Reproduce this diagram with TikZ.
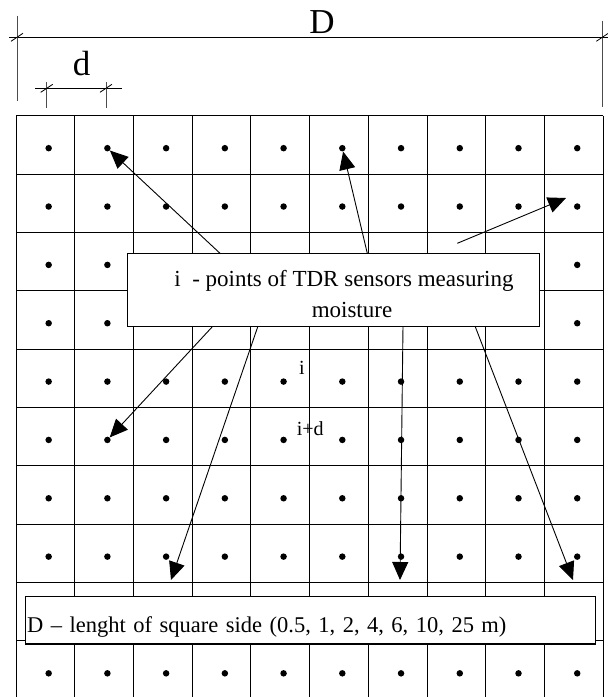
\documentclass[tikz,border=0pt]{standalone}
\usepackage{fontspec}
\setmainfont{Liberation Serif}
\usetikzlibrary{arrows.meta}

\begin{document}
\begin{tikzpicture}[
        x=1pt, y=-1pt,
        cell/.style={line width=0.9pt},
        dot/.style={circle, fill, inner sep=0pt, minimum size=6.5pt},
        box/.style={rectangle, draw, line width=1.2pt, fill=white, inner sep=0pt},
        arrow/.style={-{Triangle[length=18pt, width=16pt]}, line width=0.9pt},
        dim/.style={line width=0.9pt},
        ext/.style={line width=0.9pt, black!70},
        tick/.style={line width=0.8pt},
        big/.style={font=\fontsize{35}{40}\selectfont, inner sep=0pt},
        small/.style={font=\fontsize{20}{24}\selectfont, inner sep=0pt}
    ]
    \useasboundingbox (0,0) rectangle (608,697);
    \clip (0,0) rectangle (608,697);

    % grid of squares
    \foreach \k in {0,...,10} {
        \draw[cell] ({16+\k*58.73},115.7) -- ({16+\k*58.73},710);
        \draw[cell] (16,{115.7+\k*58.35}) -- (603.3,{115.7+\k*58.35});
    }
    \foreach \c in {1,...,10}
        \foreach \r in {1,...,10}
            \node[dot] (p-\c-\r) at ({19.3+(\c-0.5)*58.73},{119+(\r-0.5)*58.35}) {};

    % dimension D
    \coordinate (Dleft) at (9,37.3);
    \coordinate (Dright) at (608,37.3);
    \draw[dim] (Dleft) -- (Dright);
    \draw[ext] (17,15.7) -- (17,100.7);
    \draw[ext] (602.3,20.7) -- (602.3,107.3);
    \draw[tick] (17,37.3) ++(-6,4) -- ++(12,-8);
    \draw[tick] (602.3,37.3) ++(-6,4) -- ++(12,-8);
    \node[big, anchor=base] (Dlabel) at (322,33) {D};

    % dimension d
    \coordinate (dleft) at (35,88.3);
    \coordinate (dright) at (122,88.3);
    \draw[dim] (dleft) -- (dright);
    \draw[ext] (46.7,82) -- (46.7,107.7);
    \draw[ext] (106,82) -- (106,107.7);
    \draw[tick] (46.7,88.3) ++(-6,4) -- ++(12,-8);
    \draw[tick] (106,88.3) ++(-6,4) -- ++(12,-8);
    \node[big, anchor=base] (dlabel) at (81.7,75) {d};

    % arrows to the sensor points
    \coordinate (a1) at (220,253.3);
    \coordinate (a2) at (367.3,253.3);
    \coordinate (a3) at (457.3,243.3);
    \coordinate (t3) at (566,198);
    \coordinate (a4) at (213,326);
    \coordinate (a5) at (258,326);
    \coordinate (t5) at (171,580);
    \coordinate (a6) at (403,326);
    \coordinate (t6) at (400,580);
    \coordinate (a7) at (475,326);
    \coordinate (t7) at (573,580);
    \draw[arrow] (a1) -- (p-2-1);
    \draw[arrow] (a2) -- (p-6-1);
    \draw[arrow] (a3) -- (t3);
    \draw[arrow] (a4) -- (p-2-6);
    \draw[arrow] (a5) -- (t5);
    \draw[arrow] (a6) -- (t6);
    \draw[arrow] (a7) -- (t7);

    % legends
    \node[box, minimum width=412pt, minimum height=73pt] (legend) at (333.5,289.7) {};
    \node[font=\fontsize{23}{30.6}\selectfont, align=center, inner sep=0pt] (legendtext) at (344,294)
        {i\ \ - points of TDR sensors measuring\\\hspace*{16pt}moisture};
    \node[box, minimum width=570pt, minimum height=47.3pt, text width=566pt, align=left,
          inner xsep=1.5pt, text height=24pt, text depth=0pt,
          font=\fontsize{22.5}{28}\selectfont] (side) at (310.2,620.3)
        {D -- lenght of square side (0.5, 1, 2, 4, 6, 10, 25 m)};

    \node[small, anchor=base west] (ilabel) at (299,374.3) {i};
    \node[small, anchor=base west] (idlabel) at (296.7,435.7) {i+d};
\end{tikzpicture}
\end{document}
